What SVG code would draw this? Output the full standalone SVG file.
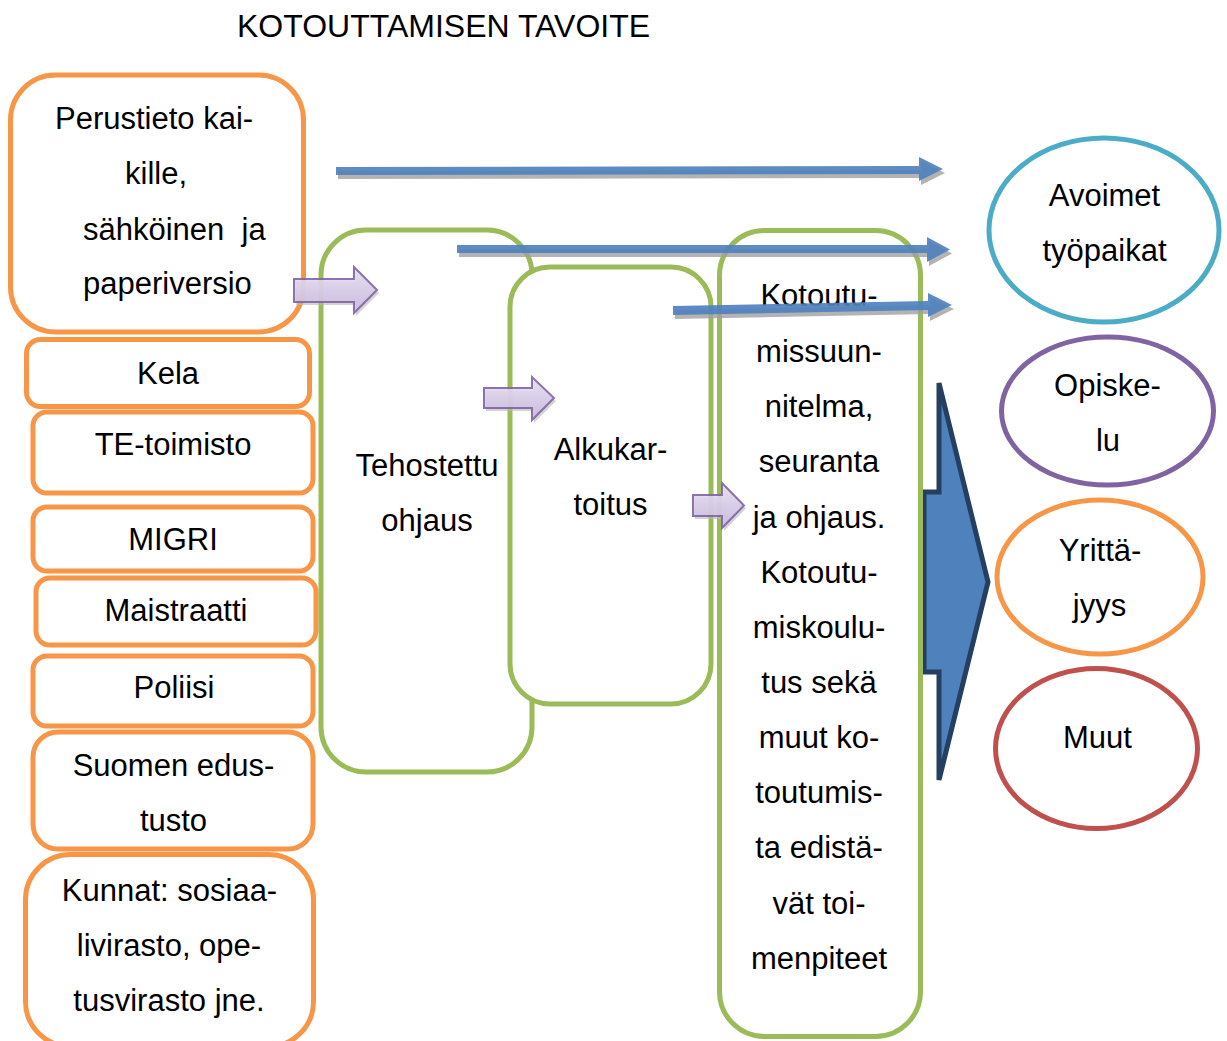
<svg xmlns="http://www.w3.org/2000/svg" width="1227" height="1041" viewBox="0 0 1227 1041">
  <style>
    text { font-family: "Liberation Sans", Arial, sans-serif; font-size: 31px; fill: #000; }
    .c { text-anchor: middle; }
    .org { fill: #fff; stroke: #F79646; stroke-width: 5; }
    .grn { fill: #fff; stroke: #9BBB59; stroke-width: 5; }
    .ell { fill: #fff; stroke-width: 5; }
    .blue { fill: #4F81BD; opacity: 0.92; }
    .shadow { fill: #A0A0A0; opacity: 0.8; }
    .purple { fill: url(#lav); stroke: #8064A2; stroke-width: 2; stroke-linejoin: miter; opacity: 0.9; }
    .pshadow { fill: #B8B8B8; opacity: 0.6; }
  </style>
  <defs>
    <linearGradient id="lav" x1="0" y1="0" x2="0" y2="1">
      <stop offset="0" stop-color="#EAE2F4"/>
      <stop offset="1" stop-color="#C9B9E0"/>
    </linearGradient>
  </defs>

  <rect width="1227" height="1041" fill="#fff"/>

  <text x="237" y="37" style="font-size:32px">KOTOUTTAMISEN TAVOITE</text>

  <!-- large right-pointing block arrow -->
  <g id="big-arrow">
    <path d="M924 492 L939 492 L939 383 L988 582 L939 780 L939 672 L924 672 Z" fill="#4F81BD" stroke="#243F60" stroke-width="5" stroke-linejoin="miter"/>
  </g>

  <!-- left column: sources of information -->
  <g id="perustieto">
    <rect class="org" x="10.5" y="75" width="293" height="257" rx="45"/>
    <text x="55" y="129">Perustieto kai-</text>
    <text x="125" y="184">kille,</text>
    <text x="83" y="240" xml:space="preserve">sähköinen  ja</text>
    <text x="83" y="294">paperiversio</text>
  </g>
  <g id="kela">
    <rect class="org" x="26.5" y="339.5" width="283" height="67" rx="14"/>
    <text class="c" x="168" y="384">Kela</text>
  </g>
  <g id="te-toimisto">
    <rect class="org" x="33" y="412" width="280" height="81" rx="14"/>
    <text class="c" x="173" y="455">TE-toimisto</text>
  </g>
  <g id="migri">
    <rect class="org" x="33" y="507" width="280" height="64" rx="14"/>
    <text class="c" x="173" y="550">MIGRI</text>
  </g>
  <g id="maistraatti">
    <rect class="org" x="36" y="578" width="280" height="67" rx="14"/>
    <text class="c" x="176" y="621">Maistraatti</text>
  </g>
  <g id="poliisi">
    <rect class="org" x="33" y="656" width="280" height="70" rx="14"/>
    <text class="c" x="174" y="698">Poliisi</text>
  </g>
  <g id="edustusto">
    <rect class="org" x="33" y="732" width="280" height="117" rx="25"/>
    <text class="c" x="173.5" y="776">Suomen edus-</text>
    <text class="c" x="173.5" y="831">tusto</text>
  </g>
  <g id="kunnat">
    <rect class="org" x="25.5" y="854.5" width="288" height="192" rx="45"/>
    <text class="c" x="169.5" y="901">Kunnat: sosiaa-</text>
    <text class="c" x="169" y="956">livirasto, ope-</text>
    <text class="c" x="169" y="1011">tusvirasto jne.</text>
  </g>

  <!-- middle column: guidance stages -->
  <g id="tehostettu">
    <rect class="grn" x="321" y="230" width="211" height="542" rx="45"/>
    <text class="c" x="427" y="476">Tehostettu</text>
    <text class="c" x="427" y="531">ohjaus</text>
  </g>
  <g id="alkukartoitus">
    <rect class="grn" x="510" y="267" width="201" height="437" rx="40"/>
    <text class="c" x="610.5" y="460">Alkukar-</text>
    <text class="c" x="610.5" y="515">toitus</text>
  </g>
  <g id="kotoutumissuunnitelma">
    <rect class="grn" x="719.5" y="230.5" width="201" height="806" rx="45"/>
    <text class="c" x="819" y="306">Kotoutu-</text>
    <text class="c" x="819" y="362">missuun-</text>
    <text class="c" x="819" y="417">nitelma,</text>
    <text class="c" x="819" y="472">seuranta</text>
    <text class="c" x="819" y="528">ja ohjaus.</text>
    <text class="c" x="819" y="583">Kotoutu-</text>
    <text class="c" x="819" y="638">miskoulu-</text>
    <text class="c" x="819" y="693">tus sekä</text>
    <text class="c" x="819" y="748">muut ko-</text>
    <text class="c" x="819" y="803">toutumis-</text>
    <text class="c" x="819" y="858">ta edistä-</text>
    <text class="c" x="819" y="914">vät toi-</text>
    <text class="c" x="819" y="969">menpiteet</text>
  </g>

  <!-- right column: outcomes -->
  <g id="avoimet">
    <ellipse class="ell" cx="1104" cy="230" rx="115" ry="92" stroke="#4BACC6"/>
    <text class="c" x="1104.5" y="206">Avoimet</text>
    <text class="c" x="1104.5" y="261">työpaikat</text>
  </g>
  <g id="opiskelu">
    <ellipse class="ell" cx="1107.5" cy="411" rx="106" ry="74" stroke="#8064A2"/>
    <text class="c" x="1107.5" y="396">Opiske-</text>
    <text class="c" x="1108" y="451">lu</text>
  </g>
  <g id="yrittajyys">
    <ellipse class="ell" cx="1100" cy="577" rx="103" ry="77" stroke="#F79646"/>
    <text class="c" x="1100" y="561">Yrittä-</text>
    <text class="c" x="1099.5" y="616">jyys</text>
  </g>
  <g id="muut">
    <ellipse class="ell" cx="1096.5" cy="748.5" rx="101" ry="80" stroke="#C0504D"/>
    <text class="c" x="1097.5" y="748">Muut</text>
  </g>

  <!-- connectors -->
  <g id="connectors">
    <!-- thin blue arrows towards the outcomes -->
    <g transform="translate(2 4)">
      <path class="shadow" d="M336 167 L919 166 L919 157 L943 169 L919 181 L919 174 L336 175 Z"/>
      <path class="shadow" d="M457 245 L927 245 L927 237 L950 249.5 L927 262 L927 253 L457 253 Z"/>
      <path class="shadow" d="M673 306 L928 301 L928 293 L952 305 L928 317 L928 310 L673 315 Z"/>
    </g>
    <path class="blue" d="M336 167 L919 166 L919 157 L943 169 L919 181 L919 174 L336 175 Z"/>
    <path class="blue" d="M457 245 L927 245 L927 237 L950 249.5 L927 262 L927 253 L457 253 Z"/>
    <path class="blue" d="M673 306 L928 301 L928 293 L952 305 L928 317 L928 310 L673 315 Z"/>

    <!-- lavender step arrows between stages -->
    <g transform="translate(2 3)">
      <path class="pshadow" d="M294 279 L354 279 L354 267 L377 290 L354 313 L354 302 L294 302 Z"/>
      <path class="pshadow" d="M484 388 L532 388 L532 377 L554 398 L532 420 L532 408 L484 408 Z"/>
      <path class="pshadow" d="M693 495 L722 495 L722 483 L744 505.5 L722 528 L722 516 L693 516 Z"/>
    </g>
    <path class="purple" d="M294 279 L354 279 L354 267 L377 290 L354 313 L354 302 L294 302 Z"/>
    <path class="purple" d="M484 388 L532 388 L532 377 L554 398 L532 420 L532 408 L484 408 Z"/>
    <path class="purple" d="M693 495 L722 495 L722 483 L744 505.5 L722 528 L722 516 L693 516 Z"/>
  </g>
</svg>
